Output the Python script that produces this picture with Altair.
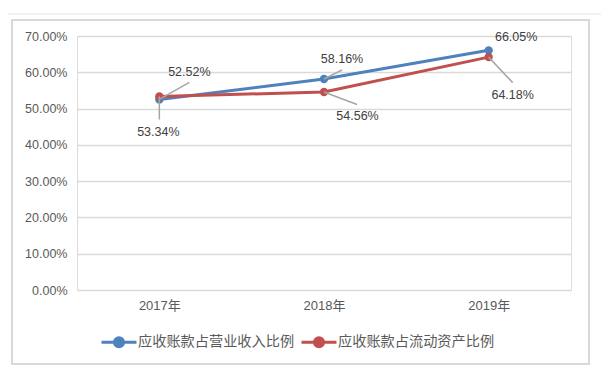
import altair as alt
import pandas as pd

# ---- data ----
years = ["2017年", "2018年", "2019年"]
series_names = ["应收账款占营业收入比例", "应收账款占流动资产比例"]
revenue_ratio = [0.5252, 0.5816, 0.6605]
asset_ratio = [0.5334, 0.5456, 0.6418]
colors = ["#4F81BD", "#C0504D"]
y_ticks = [0.0, 0.1, 0.2, 0.3, 0.4, 0.5, 0.6, 0.7]

rows = []
for s_i, (name, vals) in enumerate(zip(series_names, [revenue_ratio, asset_ratio])):
    for y_i, (yr, v) in enumerate(zip(years, vals)):
        rows.append({"year": yr, "series": name, "value": v, "order": s_i, "key": f"{s_i}-{y_i}"})
df = pd.DataFrame(rows)

# label placement (text dx, dy, leader end dx, dy) in pixels -- style only
label_style = {
    "0-0": (30, -27.5, 30, -17),
    "0-1": (18, -19.5, 18, -9),
    "0-2": (27.5, -13.5, None, None),
    "1-0": (-1, 36, 0, 23),
    "1-1": (33.5, 24, 33, 12.5),
    "1-2": (24, 37.5, 24, 25.5),
}

NUM_FONT = "Liberation Sans, Noto Sans CJK SC"
CJK_FONT = "Noto Sans CJK SC"

base = alt.Chart(df)

x_enc = alt.X(
    "year:N",
    sort=years,
    scale=alt.Scale(type="point", padding=0.5),
    axis=alt.Axis(
        title=None, ticks=False, domain=False, grid=False,
        labelFont=NUM_FONT, labelFontSize=13, labelColor="#595959",
        labelPadding=9, labelAngle=0,
    ),
)
y_enc = alt.Y(
    "value:Q",
    scale=alt.Scale(domain=[0, 0.7], nice=False),
    axis=alt.Axis(
        title=None, values=y_ticks, format=".2%", ticks=False, domain=False,
        grid=True, gridColor="#d9d9d9", gridWidth=1.5, labelOverlap=False,
        labelFont=NUM_FONT, labelFontSize=12.5, labelColor="#595959", labelPadding=10,
    ),
)

color_scale = alt.Scale(domain=series_names, range=colors)
legend_def = dict(
    orient="none", legendX=23, legendY=287, direction="horizontal", title=None,
    symbolType="M-1,0L1,0M0.26,0A0.26,0.26,0,1,1,-0.26,0A0.26,0.26,0,1,1,0.26,0Z",
    symbolSize=1225, symbolStrokeWidth=3, symbolOpacity=1,
    labelFont=CJK_FONT, labelFontSize=14.2, labelColor="#595959",
    labelOffset=0, columnPadding=0, labelLimit=400, padding=0,
)

lines = base.mark_line(strokeWidth=3).encode(
    x=x_enc, y=y_enc,
    stroke=alt.Stroke("series:N", scale=color_scale, sort=series_names, legend=alt.Legend(**legend_def)),
    order=alt.Order("order:Q"),
    detail="series:N",
)
points = base.mark_point(filled=True, size=70, opacity=1).encode(
    x=x_enc, y=y_enc,
    fill=alt.Fill("series:N", scale=color_scale, sort=series_names, legend=alt.Legend(**legend_def)),
    order=alt.Order("order:Q"),
)

layers = []
for key, (tdx, tdy, ldx, ldy) in label_style.items():
    sub = base.transform_filter(alt.datum.key == key)
    if ldx is not None:
        layers.append(
            sub.mark_rule(color="#a6a6a6", strokeWidth=1.5, x2Offset=ldx, y2Offset=ldy).encode(
                x=x_enc, x2="year", y=y_enc, y2="value"
            )
        )
    layers.append(
        sub.mark_text(dx=tdx, dy=tdy, font=NUM_FONT, fontSize=12.5, color="#404040",
                      align="center", baseline="middle").encode(
            x=x_enc, y=y_enc, text=alt.Text("value:Q", format=".2%")
        )
    )

one = alt.Chart(pd.DataFrame({"k": [0]}))
frame = one.mark_rect(fill="transparent", stroke="#d9d9d9", strokeWidth=2).encode(
    x=alt.value(-65), x2=alt.value(512), y=alt.value(-16), y2=alt.value(328)
)
top_line = one.mark_rule(color="#e3e3e3", strokeWidth=1).encode(
    x=alt.value(-80), x2=alt.value(540), y=alt.value(-22)
)

chart = alt.layer(frame, top_line, lines, points, *layers).properties(
    width=494, height=254,
    autosize=alt.AutoSizeParams(type="none"),
    padding={"left": 69, "top": 28, "right": 30, "bottom": 75},
).configure_view(stroke=None).configure(background="white")

chart.save("out.html", embed_options={"renderer": "svg", "actions": False})
